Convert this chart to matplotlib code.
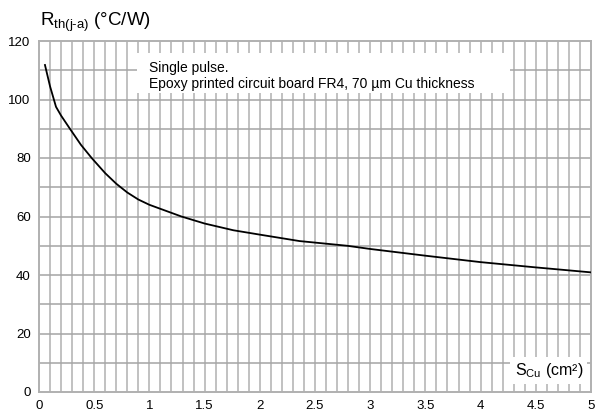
import matplotlib
matplotlib.use('Agg')
from matplotlib import pyplot as plt
from matplotlib.patches import Rectangle
import numpy as np

# thermal resistance junction-ambient vs copper area
s_cu = [0.054, 0.1, 0.154, 0.2, 0.28, 0.38, 0.477, 0.6, 0.7, 0.8, 0.9, 1.0,
        1.29, 1.5, 1.76, 2.0, 2.36, 2.79, 3.0, 3.5, 4.0, 4.5, 5.0]
r_th = [111.8, 104.5, 97.5, 94.5, 90.0, 84.5, 80.0, 74.8, 71.2, 68.2, 65.8, 64.0,
        60.0, 57.6, 55.3, 53.8, 51.6, 50.0, 48.9, 46.6, 44.4, 42.6, 40.9]

x_ticks = [0, 0.5, 1, 1.5, 2, 2.5, 3, 3.5, 4, 4.5, 5]
x_ticklabels = ['0', '0.5', '1', '1.5', '2', '2.5', '3', '3.5', '4', '4.5', '5']
y_ticks = [0, 20, 40, 60, 80, 100, 120]

plt.rcParams['font.family'] = ['Liberation Sans', 'DejaVu Sans']
plt.rcParams['mathtext.fontset'] = 'custom'
plt.rcParams['mathtext.rm'] = 'Liberation Sans'
plt.rcParams['mathtext.it'] = 'Liberation Sans'

W, H = 597, 412
fig = plt.figure(figsize=(W / 100, H / 100), dpi=100)
ax = fig.add_axes([39 / W, 1 - 392 / H, 552 / W, 351 / H])

ax.set_xlim(0, 5)
ax.set_ylim(0, 120)

# fine grid: every 0.1 cm2 and every 10 degC/W
grid_col = '#b0b0b0'
for xv in np.arange(0.1, 5.0, 0.1):
    ax.axvline(xv, color=grid_col, lw=1.1, zorder=1)
for yv in range(10, 120, 10):
    ax.axhline(yv, color='#a4a4a4', lw=1.1, zorder=1)
for sp in ax.spines.values():
    sp.set_color(grid_col)
    sp.set_linewidth(1.4)

ax.plot(s_cu, r_th, color='black', lw=1.3, zorder=4)

ax.set_xticks(x_ticks)
ax.set_xticklabels(x_ticklabels)
ax.set_yticks(y_ticks)
ax.tick_params(length=0, labelsize=9.5, pad=6)

# note with white background over the grid
box = Rectangle(((137 - 39) / 552, (392 - 93) / 351), 373 / 552, 40 / 351,
                transform=ax.transAxes, facecolor='white', edgecolor='none', zorder=2)
ax.add_patch(box)
ax.text((149 - 39) / 552, (392 - 72) / 351, 'Single pulse.', transform=ax.transAxes,
        fontsize=10, va='baseline', zorder=3)
ax.text((149 - 39) / 552, (392 - 88) / 351,
        'Epoxy printed circuit board FR4, 70 \u00b5m Cu thickness',
        transform=ax.transAxes, fontsize=10, va='baseline', zorder=3)

# axis labels
ax.text((583 - 39) / 552, (392 - 375) / 351, 'S$_{\\mathrm{Cu}}$ (cm\u00b2)',
        transform=ax.transAxes, fontsize=11.5, ha='right', va='baseline', zorder=3,
        bbox=dict(facecolor='white', edgecolor='none', pad=3))
fig.text(40 / W, 1 - 26 / H, 'R$_{\\mathrm{th(j\\text{-}a)}}$ (\u00b0C/W)',
         fontsize=13.5, va='baseline')

plt.savefig('out.png', dpi=100)
